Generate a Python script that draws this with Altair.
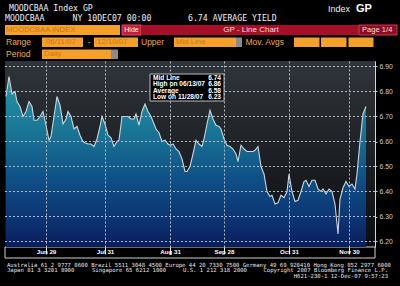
import altair as alt
import pandas as pd

# ---------------- data ----------------
holidays = ["2007-07-04", "2007-09-03", "2007-11-22"]
dates = pd.bdate_range("2007-06-11", "2007-12-10", freq="C",
                       holidays=holidays).strftime("%Y-%m-%d").tolist()

yields = [
    6.78, 6.86, 6.79, 6.80, 6.76, 6.74, 6.70, 6.72, 6.76, 6.74,
    6.685, 6.685, 6.70, 6.72, 6.665, 6.605, 6.62, 6.70, 6.78, 6.745,
    6.67, 6.69, 6.72, 6.70, 6.65, 6.66, 6.625, 6.60, 6.595, 6.59,
    6.59, 6.58, 6.61, 6.66, 6.70, 6.67, 6.625, 6.615, 6.58, 6.60,
    6.605, 6.70, 6.70, 6.70, 6.69, 6.69, 6.71, 6.665, 6.72, 6.75,
    6.72, 6.70, 6.68, 6.65, 6.635, 6.60, 6.605, 6.59, 6.585, 6.59,
    6.57, 6.56, 6.53, 6.48, 6.48, 6.50, 6.55, 6.605, 6.59, 6.58,
    6.61, 6.67, 6.725, 6.69, 6.665, 6.66, 6.65, 6.61, 6.585, 6.58,
    6.57, 6.55, 6.52, 6.585, 6.57, 6.56, 6.56, 6.56, 6.565, 6.58,
    6.50, 6.47, 6.40, 6.38, 6.385, 6.35, 6.355, 6.385, 6.375, 6.40,
    6.47, 6.40, 6.36, 6.365, 6.40, 6.44, 6.445, 6.42, 6.445, 6.445,
    6.41, 6.40, 6.41, 6.39, 6.41, 6.40, 6.35, 6.23, 6.37, 6.415,
    6.44, 6.42, 6.43, 6.41, 6.47, 6.60, 6.71, 6.74,
]
n = min(len(dates), len(yields))
df = pd.DataFrame({"i": list(range(n)), "date": dates[:n], "yield": yields[:n]})

tick_dates = ["2007-06-29", "2007-07-31", "2007-08-31",
              "2007-09-28", "2007-10-31", "2007-11-30"]
tick_labels = ["Jun 29", "Jul 31", "Aug 31", "Sep 28", "Oct 31", "Nov 30"]
tick_idx = [dates.index(d) for d in tick_dates]
y_ticks = [6.2, 6.3, 6.4, 6.5, 6.6, 6.7, 6.8, 6.9]

legend_names = ["Mid Line", "High on 06/13/07", "Average", "Low on 11/28/07"]
legend_values = ["6.74", "6.86", "6.58", "6.23"]

# ---------------- layout ----------------
W, H = 370, 186
OX, OY = 5, 61  # plot origin on the page
Y_MIN, Y_MAX = 6.178, 6.922

one = alt.Data(values=[{}])


def box(x1, y1, x2, y2, fill, stroke=None, sw=1):
    kw = dict(fill=fill)
    if stroke:
        kw.update(stroke=stroke, strokeWidth=sw)
    return alt.Chart(one).mark_rect(**kw).encode(
        x=alt.value(x1 - OX), x2=alt.value(x2 - OX),
        y=alt.value(y1 - OY), y2=alt.value(y2 - OY))


def txt(s, x, y, color, size, font="Liberation Sans Narrow, Liberation Sans",
        align="left", weight="normal"):
    return alt.Chart(one).mark_text(
        text=s, align=align, baseline="middle", color=color, fontSize=size,
        font=font, fontWeight=weight).encode(
        x=alt.value(x - OX), y=alt.value(y - OY))


MONO = "DejaVu Sans Mono"
ORANGE = "#f6a02a"
ORTXT = "#c57a14"
LBL = "#f2a848"
GREY = "#8a8a8a"
GRID = "#b0b8c0"

ui = [
    # title lines
    txt("MOODCBAA Index GP", 9, 8.5, "#f0f0f0", 8.2, MONO),
    txt("Index", 328, 8.5, "#f0f0f0", 9, "Liberation Sans"),
    txt("GP", 356, 8.5, "#ffffff", 11, "Liberation Sans", weight="bold"),
    txt("MOODCBAA", 5, 19.3, "#f0f0f0", 8.2, MONO),
    txt("NY 10DEC07 00:00", 72.5, 19.3, "#f0f0f0", 8.2, MONO),
    txt("6.74 AVERAGE YIELD", 188, 19.3, "#f0f0f0", 8.2, MONO),
    # row 3
    box(5, 25, 120, 35, ORANGE),
    txt("MOODCBAA INDEX", 6, 30, ORTXT, 7.6),
    box(122, 25, 141, 35, "#c41e3a", "#e05060"),
    txt("Hide", 131.5, 30, "#ffffff", 7, align="center"),
    box(142, 25, 397, 35, "#a50f27"),
    box(359, 25, 397, 35, "#8e0c22", "#c04050"),
    txt("GP - Line Chart", 251, 30, "#f4dede", 8, align="center"),
    txt("Page 1/4", 362, 30, "#f4dede", 7.6),
    # row 4
    txt("Range", 6, 42.3, LBL, 8.5),
    box(42, 37.5, 83, 47, ORANGE),
    txt("06/11/07", 46, 42.3, ORTXT, 7.8),
    txt("-", 88, 42.3, "#e0e0e0", 8),
    box(94, 37.5, 138, 47, ORANGE),
    txt("12/10/07", 97, 42.3, ORTXT, 7.8),
    txt("Upper", 141, 42.3, LBL, 8.5),
    box(174, 37.5, 236, 47, ORANGE),
    box(236, 37.5, 242, 47, GREY),
    txt("Mid Line", 176, 42.3, ORTXT, 7.8),
    txt("Mov. Avgs", 245.5, 42.3, LBL, 8.5),
    box(294, 37.5, 319.5, 47, ORANGE),
    box(321, 37.5, 346.5, 47, ORANGE),
    box(348.5, 37.5, 373.5, 47, ORANGE),
    # row 5
    txt("Period", 6, 54.3, LBL, 8.5),
    box(42, 49.5, 111, 59, ORANGE),
    box(111, 49.5, 118, 59, GREY),
    txt("Daily", 44, 54.3, ORTXT, 7.8),
    # footer
    txt("Australia 61 2 9777 8600 Brazil 5511 3048 4500 Europe 44 20 7330 7500 "
        "Germany 49 69 920410 Hong Kong 852 2977 6000", 7, 265, "#e6e6e6", 5.6, MONO),
    txt("Japan 81 3 3201 8900", 7, 270.3, "#e6e6e6", 5.6, MONO),
    txt("Singapore 65 6212 1000", 92, 270.3, "#e6e6e6", 5.6, MONO),
    txt("U.S. 1 212 318 2000", 183, 270.3, "#e6e6e6", 5.6, MONO),
    txt("Copyright 2007 Bloomberg Finance L.P.", 388, 270.3, "#e6e6e6", 5.6, MONO,
        align="right"),
    txt("H621-230-1 12-Dec-07  9:57:23", 388, 275.5, "#e6e6e6", 5.6, MONO,
        align="right"),
]

# ---------------- chart ----------------
xscale = alt.Scale(domain=[0, n - 1], range=[1, 361], round=True, nice=False,
                   zero=False)
yscale = alt.Scale(domain=[Y_MIN, Y_MAX], nice=False, zero=False)

label_expr = " : ".join(f"datum.value == {i} ? '{lab}'"
                        for i, lab in zip(tick_idx, tick_labels)) + " : ''"

x_axis = alt.Axis(values=tick_idx, labelExpr=label_expr,
                  labelAngle=0, domain=False, labelOverlap=False,
                  labelFlush=False, labelBound=False,
                  grid=True, gridColor=GRID, gridDash=[2, 2], gridWidth=1,
                  gridOpacity=1,
                  tickColor="#e8e8e8", tickSize=7, labelPadding=-5.5,
                  labelColor="#ffffff", labelFontSize=6.2, zindex=2,
                  labelFont="Liberation Sans", labelFontWeight="bold")
y_axis = alt.Axis(orient="right", values=y_ticks, format=".2f",
                  domain=False, grid=False, tickColor="#c8c8c8", zindex=2,
                  labelOverlap=False, tickSize=2, labelPadding=2,
                  labelColor="#d0d0d0", labelFontSize=6.8,
                  labelFont="Liberation Sans")

x_enc = alt.X("i:Q", scale=xscale, title=None, axis=x_axis)
y_enc = alt.Y("yield:Q", scale=yscale, title=None, stack=None, axis=y_axis)

bg = alt.Chart(one).mark_rect(
    fill=alt.Gradient(gradient="linear", x1=0, x2=0, y1=0, y2=1,
                      stops=[alt.GradientStop(color="#30353b", offset=0),
                             alt.GradientStop(color="#1d2024", offset=0.5),
                             alt.GradientStop(color="#0c0d10", offset=1)])
).encode(x=alt.value(0), x2=alt.value(W), y=alt.value(0), y2=alt.value(H))

strip = box(5, 247, 375, 258, "#000000", "#d0d0d0")

area = alt.Chart(df).mark_area(
    clip=True,
    color=alt.Gradient(gradient="linear", x1=0, x2=0, y1=0, y2=1,
                       stops=[alt.GradientStop(color="#2597a8", offset=0),
                              alt.GradientStop(color="#1a7896", offset=0.3),
                              alt.GradientStop(color="#0f5086", offset=0.6),
                              alt.GradientStop(color="#0c3272", offset=0.85),
                              alt.GradientStop(color="#0a1e5c", offset=1)])
).encode(x=x_enc, y=y_enc, y2=alt.datum(Y_MIN))

line = alt.Chart(df).mark_line(color="#cdd6dc", strokeWidth=1.1).encode(
    x=x_enc, y=y_enc, tooltip=["date:N", "yield:Q"])

grid_y = alt.Chart(pd.DataFrame({"yield": y_ticks})).mark_rule(
    color=GRID, strokeDash=[2, 2], strokeWidth=1
).encode(y=y_enc)

legend_layers = [box(150, 74, 224, 101, "#000000", "#bdbdbd")]
for k, (nm, val) in enumerate(zip(legend_names, legend_values)):
    yy = 77.8 + k * 6.5
    legend_layers.append(txt(nm, 153, yy, "#ffffff", 6.6, "Liberation Sans", weight="bold"))
    legend_layers.append(txt(val, 221, yy, "#ffffff", 6.6, "Liberation Sans",
                             align="right", weight="bold"))

chart = alt.layer(bg, strip, area, line, grid_y, *legend_layers, *ui).properties(
    width=W, height=H,
    autosize=alt.AutoSizeParams(type="none"),
    padding={"left": OX, "top": OY, "right": 400 - OX - W, "bottom": 286 - OY - H},
    background="#000000",
).configure_view(stroke="#d4d4d4", strokeWidth=1)

chart.save("out.html", embed_options={"renderer": "svg", "actions": False})
